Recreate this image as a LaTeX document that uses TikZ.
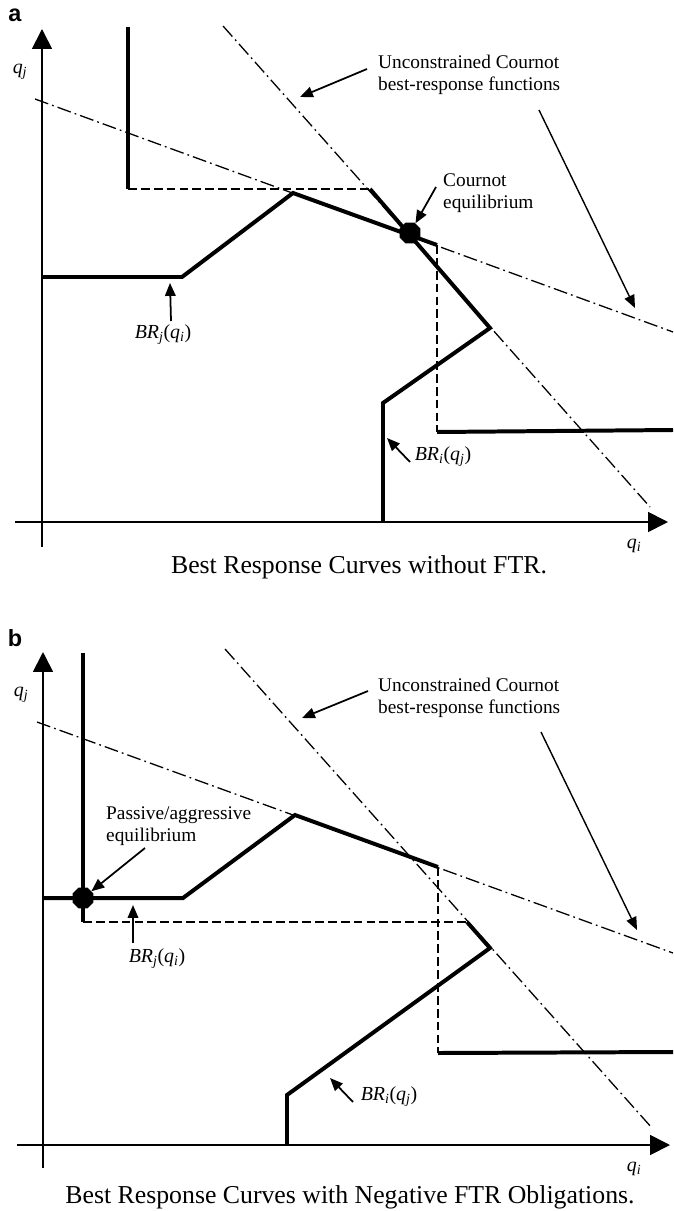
\documentclass[tikz,border=0pt]{standalone}
\usepackage{fontspec}
\setmainfont{Liberation Serif}
\setsansfont{Liberation Sans}
\usetikzlibrary{arrows.meta,shapes.geometric}
\newcommand{\qsub}[1]{\textit{q}\textsubscript{\textit{#1}}}
\newcommand{\brof}[2]{\textit{BR}\textsubscript{\textit{#1}}(\qsub{#2})}
\tikzset{
    every node/.style={font=\fontsize{16.5}{19}\selectfont},
    axisline/.style={line width=1.5pt, -{Triangle[length=17pt,width=17pt]}},
    brcurve/.style={line width=3.4pt},
    kinkline/.style={line width=1.6pt, dash pattern=on 7.5pt off 3.5pt},
    cournotline/.style={line width=1.1pt, dash pattern=on 12pt off 3.5pt on 1.5pt off 3.5pt},
    callout/.style={line width=1.5pt, -{Triangle[length=11pt,width=9pt]}},
    eqdot/.style={regular polygon, regular polygon sides=8, fill, draw=none,
        minimum size=0.68cm, inner sep=0pt},
    annot/.style={font=\fontsize{16.5}{19}\selectfont, align=left, inner sep=0pt},
    brlabel/.style={font=\fontsize{17}{19}\selectfont, inner sep=0pt},
    axislabel/.style={font=\fontsize{17}{19}\selectfont, inner sep=0pt},
    caption/.style={font=\fontsize{22}{26}\selectfont, inner sep=0pt},
    panellabel/.style={font=\sffamily\bfseries\fontsize{20}{22}\selectfont, inner sep=0pt},
}

\begin{document}
\begin{tikzpicture}[x=0.03cm, y=-0.03cm]
    \useasboundingbox (0,0) rectangle (673,1211);

    % ===== Panel a: no FTR =====
    \node[panellabel] (taga) at (15,15) {a};

    % axes
    \draw[axisline] (42,547) -- (42,29);
    \draw[axisline] (15,522) -- (668,522);
    \node[axislabel] (qja) at (20,72) {\qsub{j}};
    \node[axislabel] (qia) at (634,546) {\qsub{i}};

    % unconstrained reaction lines
    \draw[cournotline] (35,99) -- (673,332);
    \draw[cournotline] (223,26) -- (650,507);

    % BR_i(q_j)
    \draw[brcurve] (128,27) -- (128,189);
    \draw[kinkline] (128,189) -- (370,189);
    \draw[brcurve] (370,189) -- (490,328) -- (383,403) -- (383,522);

    % BR_j(q_i)
    \draw[brcurve] (42,277) -- (182,277) -- (293,193) -- (437,245);
    \draw[kinkline] (437,245) -- (437,432);
    \draw[brcurve] (437,432) -- (673,430);

    % equilibrium point
    \node[eqdot] (eqa) at (410,233) {};

    % labels and callouts
    \node[annot, anchor=west] (uncona) at (378,75) {Unconstrained Cournot\\best-response functions};
    \node[annot, anchor=west] (cournota) at (443,193) {Cournot\\equilibrium};
    \node[brlabel] (brja) at (163,335) {\brof{j}{i}};
    \node[brlabel] (bria) at (443,457) {\brof{i}{j}};
    \coordinate (uncona-tail) at (367,69);
    \coordinate (uncona-tip) at (300,97);
    \coordinate (uncona-tail2) at (539,110);
    \coordinate (uncona-tip2) at (635,308);
    \coordinate (cournota-tail) at (436,187);
    \coordinate (brja-tail) at (171,321);
    \coordinate (brja-tip) at (170,283);
    \coordinate (bria-tail) at (410,462);
    \coordinate (bria-tip) at (387,438);
    \draw[callout] (uncona-tail) -- (uncona-tip);
    \draw[callout, line width=1.2pt] (uncona-tail2) -- (uncona-tip2);
    \draw[callout] (cournota-tail) -- (eqa);
    \draw[callout] (brja-tail) -- (brja-tip);
    \draw[callout] (bria-tail) -- (bria-tip);

    \node[caption, anchor=base] (capa) at (359,573) {Best Response Curves without FTR.};

    % ===== Panel b: negative FTR obligations =====
    \node[panellabel] (tagb) at (15,638) {b};

    % axes
    \draw[axisline] (43,1168) -- (43,652);
    \draw[axisline] (17,1145) -- (670,1145);
    \node[axislabel] (qjb) at (21,695) {\qsub{j}};
    \node[axislabel] (qib) at (634,1169) {\qsub{i}};

    % unconstrained reaction lines
    \draw[cournotline] (37,722) -- (673,953);
    \draw[cournotline] (225,649) -- (652,1128);

    % BR_i(q_j)
    \draw[brcurve] (83,653) -- (83,922);
    \draw[kinkline] (83,922) -- (467,922);
    \draw[brcurve] (467,922) -- (490,948) -- (287,1095) -- (287,1145);

    % BR_j(q_i)
    \draw[brcurve] (43,898) -- (183,898) -- (295,815) -- (438,867);
    \draw[kinkline] (438,867) -- (438,1053);
    \draw[brcurve] (438,1053) -- (673,1052);

    % equilibrium point
    \node[eqdot] (eqb) at (83,898) {};

    % labels and callouts
    \node[annot, anchor=west] (unconb) at (378,698) {Unconstrained Cournot\\best-response functions};
    \node[annot, anchor=west] (passiveb) at (106,826) {Passive/aggressive\\equilibrium};
    \node[brlabel] (brjb) at (157,959) {\brof{j}{i}};
    \node[brlabel] (brib) at (389,1097) {\brof{i}{j}};
    \coordinate (unconb-tail) at (368,691);
    \coordinate (unconb-tip) at (302,718);
    \coordinate (unconb-tail2) at (541,732);
    \coordinate (unconb-tip2) at (637,930);
    \coordinate (passiveb-tail) at (145,848);
    \coordinate (brjb-tail) at (133,943);
    \coordinate (brjb-tip) at (133,905);
    \coordinate (brib-tail) at (353,1102);
    \coordinate (brib-tip) at (330,1078);
    \draw[callout] (unconb-tail) -- (unconb-tip);
    \draw[callout, line width=1.2pt] (unconb-tail2) -- (unconb-tip2);
    \draw[callout] (passiveb-tail) -- (eqb);
    \draw[callout] (brjb-tail) -- (brjb-tip);
    \draw[callout] (brib-tail) -- (brib-tip);

    \node[caption, anchor=base] (capb) at (350,1203) {Best Response Curves with Negative FTR Obligations.};
\end{tikzpicture}
\end{document}
